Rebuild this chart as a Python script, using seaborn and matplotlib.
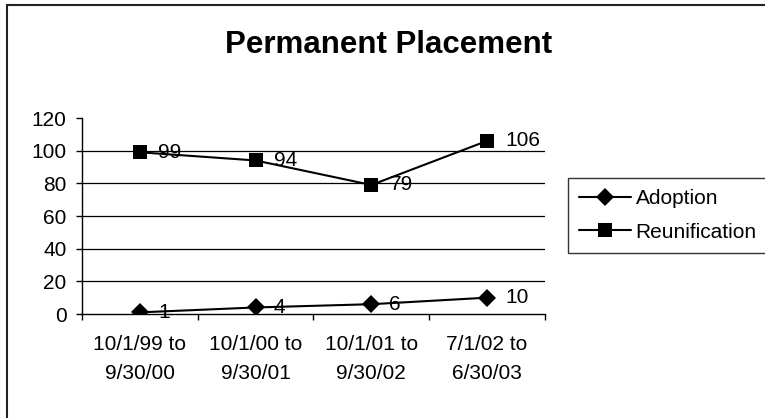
import matplotlib
matplotlib.use("Agg")
import matplotlib.pyplot as plt
from matplotlib.lines import Line2D
import seaborn as sns
import pandas as pd

categories = ["10/1/99 to\n9/30/00", "10/1/00 to\n9/30/01", "10/1/01 to\n9/30/02", "7/1/02 to\n6/30/03"]
adoption = [1, 4, 6, 10]
reunification = [99, 94, 79, 106]
series_names = ["Adoption", "Reunification"]
y_ticks = [0, 20, 40, 60, 80, 100, 120]

sns.set_theme(style="white")
plt.rcParams['font.family'] = ['Liberation Sans', 'DejaVu Sans']

rows = []
for i, c in enumerate(categories):
    rows.append({"x": i, "value": adoption[i], "series": series_names[0]})
    rows.append({"x": i, "value": reunification[i], "series": series_names[1]})
df = pd.DataFrame(rows)

fig = plt.figure(figsize=(7.65, 4.18), dpi=100)
ax = fig.add_axes([82 / 765, 1 - 314 / 418, (545 - 82) / 765, (314 - 118) / 418])

DIAMOND_SIZE = 8.8
SQUARE_SIZE = 9.4

sns.lineplot(data=df, x="x", y="value", hue="series", style="series",
             markers={"Adoption": "D", "Reunification": "s"}, dashes=False,
             palette={"Adoption": "black", "Reunification": "black"},
             markersize=SQUARE_SIZE, linewidth=1.5, ax=ax, legend=False)
for line in ax.lines:
    line.set_markeredgecolor("black")
    line.set_markerfacecolor("black")
    line.set_markeredgewidth(0)
ax.lines[0].set_markersize(DIAMOND_SIZE)

for i in range(len(categories)):
    ax.annotate(str(adoption[i]), (i, adoption[i]), xytext=(13, 0), textcoords="offset points",
                ha="left", va="center", fontsize=15, color="black")
    ax.annotate(str(reunification[i]), (i, reunification[i]), xytext=(13, 0), textcoords="offset points",
                ha="left", va="center", fontsize=15, color="black")

ax.set_xlim(-0.5, 3.5)
ax.set_ylim(0, 120)
ax.set_yticks(y_ticks)
ax.set_xticks([-0.5, 0.5, 1.5, 2.5, 3.5])
ax.set_xticklabels([])
ax.set_xticks(range(len(categories)), minor=True)
ax.set_xticklabels(categories, minor=True, fontsize=15, va="top")
ax.tick_params(axis="x", which="minor", length=0, pad=15)
ax.tick_params(axis="x", which="major", direction="out", length=4, width=1, color="black", bottom=True)
ax.tick_params(axis="y", direction="out", length=4, width=1, color="black", left=True, labelsize=15, pad=7)
for lbl in ax.get_yticklabels():
    lbl.set_color("black")
for lbl in ax.get_xticklabels(minor=True):
    lbl.set_color("black")
    lbl.set_linespacing(1.7)

for y in y_ticks[1:-1]:
    ax.axhline(y, color="black", linewidth=0.9, zorder=0)

ax.spines["top"].set_visible(False)
ax.spines["right"].set_visible(False)
for s in ["left", "bottom"]:
    ax.spines[s].set_color("black")
    ax.spines[s].set_linewidth(1)
ax.set_xlabel("")
ax.set_ylabel("")

handles = [Line2D([], [], color="black", linewidth=1.5, marker="D", markersize=DIAMOND_SIZE,
                  markeredgewidth=0, markerfacecolor="black"),
           Line2D([], [], color="black", linewidth=1.5, marker="s", markersize=SQUARE_SIZE,
                  markeredgewidth=0, markerfacecolor="black")]
leg = fig.legend(handles, series_names, loc="upper left", bbox_to_anchor=(568 / 765, 1 - 178 / 418),
                 frameon=True, fancybox=False, fontsize=15, handlelength=2.45,
                 borderpad=0.55, labelspacing=0.68, handletextpad=0.25, borderaxespad=0)
leg.get_frame().set_edgecolor("black")
leg.get_frame().set_linewidth(1)
for t in leg.get_texts():
    t.set_color("black")

fig.text(389 / 765, 1 - 53 / 418, "Permanent Placement", ha="center", va="baseline",
         fontsize=22.5, fontweight="bold", color="black")

fig.add_artist(Line2D([7 / 765, 7 / 765], [0, 1 - 5 / 418], transform=fig.transFigure,
                      color="#222222", linewidth=1.5))
fig.add_artist(Line2D([7 / 765, 1], [1 - 5 / 418, 1 - 5 / 418], transform=fig.transFigure,
                      color="#222222", linewidth=1.5))

fig.savefig("out.png", dpi=100)
